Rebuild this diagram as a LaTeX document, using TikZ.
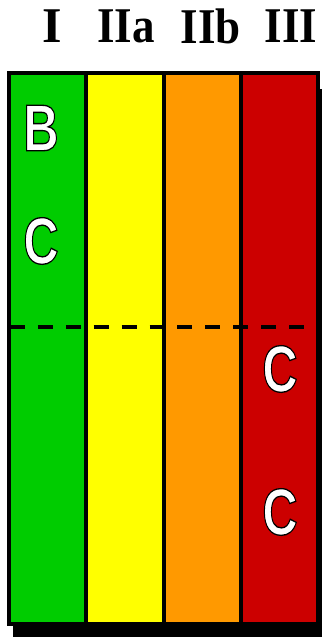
\documentclass[tikz,border=0pt]{standalone}
\usepackage{fontspec}
\setmainfont{Liberation Serif}
\newfontfamily\lettfont[FakeBold=2]{Liberation Sans}
\usetikzlibrary{positioning}
\definecolor{clsgreen}{HTML}{00CC00}
\definecolor{clsyellow}{HTML}{FFFF00}
\definecolor{clsorange}{HTML}{FF9900}
\definecolor{clsred}{HTML}{CC0000}
% white letter with a thin black outline
\newcommand{\outlined}[1]{\textcolor{white}{\special{pdf:literal direct 0 0 0 RG 2 Tr 1.4 w}#1\special{pdf:literal direct 0 Tr}}}

\begin{document}
\begin{tikzpicture}[x=1pt,y=-1pt,
  col/.style={draw=black,line width=4pt},
  head/.style={font=\bfseries\fontsize{50}{50}\selectfont,inner sep=0pt,anchor=center},
  lett/.style={font=\lettfont\bfseries\fontsize{66}{66}\selectfont,inner sep=0pt,anchor=center},
  divide/.style={line width=3.2pt,dash pattern=on 15pt off 12.9pt}]
\useasboundingbox (0,0) rectangle (322,637);
% shadow behind the table
\fill[black] (13,89) rectangle (322,637);
% the four classes
\foreach \x/\c in {9/clsgreen, 86.25/clsyellow, 163.5/clsorange, 240.75/clsred}
  \draw[col,fill=\c] (\x,73) rectangle ++(77.25,551);
% headings
\node[head] (hI)   at (52,26)  {I};
\node[head] (hIIa) at (126,26) {\scalebox{0.9}[1]{IIa}};
\node[head] (hIIb) at (211,26) {\scalebox{0.9}[1]{IIb}};
\node[head] (hIII) at (291,26) {\scalebox{0.9}[1]{III}};
% evidence levels
\node[lett] (lB)  at (41,128)  {\scalebox{0.74}[1]{\outlined{B}}};
\node[lett] (lC1) at (41,241)  {\scalebox{0.74}[1]{\outlined{C}}};
\node[lett] (lC2) at (280,369) {\scalebox{0.74}[1]{\outlined{C}}};
\node[lett] (lC3) at (280,512) {\scalebox{0.74}[1]{\outlined{C}}};
% dividing line
\coordinate (dl) at (10,327);
\coordinate (dr) at (304,327);
\draw[divide] (dl) -- (dr);
\end{tikzpicture}
\end{document}
